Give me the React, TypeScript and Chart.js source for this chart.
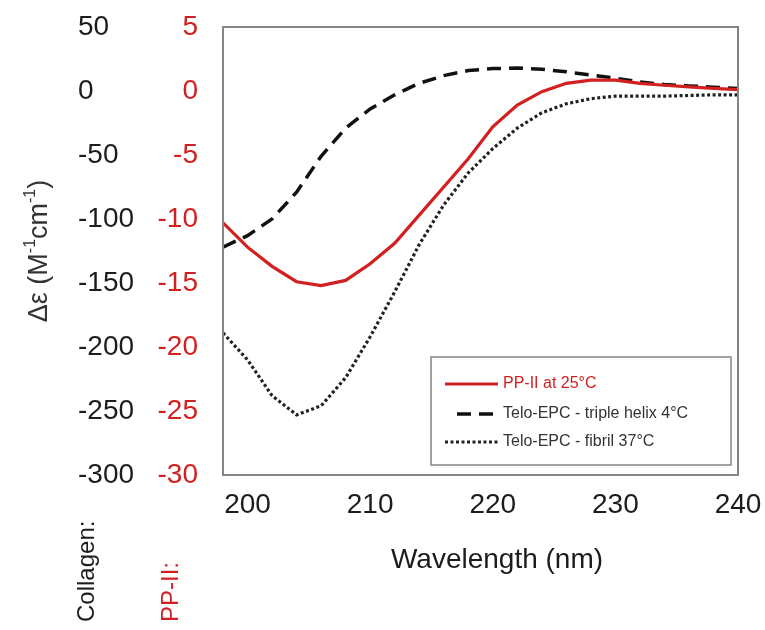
import React, { useEffect, useRef } from "react";
import { Chart, registerables } from "chart.js";

Chart.register(...registerables);

const wavelengths = [198, 200, 202, 204, 206, 208, 210, 212, 214, 216, 218, 220, 222, 224, 226, 228, 230, 232, 234, 236, 238, 240];
const ppII25 = [-10.3, -12.2, -13.7, -14.9, -15.2, -14.8, -13.5, -11.9, -9.7, -7.5, -5.3, -2.8, -1.1, -0.05, 0.6, 0.85, 0.85, 0.6, 0.45, 0.32, 0.2, 0.1];
const tripleHelix4 = [-122, -113, -100, -79, -51, -29, -14, -3, 6, 12, 16, 17.5, 18, 17, 15, 12.5, 10, 7, 5, 4, 3, 2];
const fibril37 = [-189, -210, -238, -253, -246, -224, -192, -157, -120, -89, -64, -45, -29, -17, -10, -6, -4, -4, -4, -3.5, -3, -3];

const xTicks = [200, 210, 220, 230, 240];
const collagenTicks = [-300, -250, -200, -150, -100, -50, 0, 50];
const ppTicks = [-30, -25, -20, -15, -10, -5, 0, 5];

const seriesLabels = ["PP-II at 25°C", "Telo-EPC - triple helix 4°C", "Telo-EPC - fibril 37°C"];
const xTitle = "Wavelength (nm)";

const FONT = "'Liberation Sans', Arial, sans-serif";
const RED = "#d21f1f";
const BLACK = "#1c1c1c";
const FRAME = "#858585";

const toPoints = (ys: number[]) => wavelengths.map((x, i) => ({ x, y: ys[i] }));

const zeroPad = (s: any) => {
  s.paddingTop = 0;
  s.paddingBottom = 0;
  s.paddingLeft = 0;
  s.paddingRight = 0;
};

const decorPlugin = {
  id: "decor",
  afterDatasetsDraw(chart: any) {
    const ctx = chart.ctx;
    const a = chart.chartArea;
    ctx.save();
    // plot frame
    ctx.strokeStyle = FRAME;
    ctx.lineWidth = 2;
    ctx.setLineDash([]);
    ctx.strokeRect(a.left, a.top, a.right - a.left, a.bottom - a.top);

    // legend box
    const lx = 431, ly = 357, lw = 300, lh = 108;
    ctx.fillStyle = "#ffffff";
    ctx.fillRect(lx, ly, lw, lh);
    ctx.strokeStyle = FRAME;
    ctx.lineWidth = 1.5;
    ctx.strokeRect(lx, ly, lw, lh);
    const rows = [384, 414, 442];
    const starts = [445, 457, 445];
    chart.data.datasets.forEach((ds: any, i: number) => {
      const y = rows[i];
      ctx.save();
      ctx.strokeStyle = ds.borderColor;
      ctx.lineWidth = ds.borderWidth;
      ctx.setLineDash(ds.borderDash || []);
      ctx.lineCap = "butt";
      ctx.beginPath();
      ctx.moveTo(starts[i], y);
      ctx.lineTo(498, y);
      ctx.stroke();
      ctx.restore();
      ctx.fillStyle = i === 0 ? RED : "#333333";
      ctx.font = `16px ${FONT}`;
      ctx.textAlign = "left";
      ctx.textBaseline = "middle";
      ctx.fillText(ds.label, 503, y);
    });

    // x axis title
    ctx.fillStyle = BLACK;
    ctx.font = `28px ${FONT}`;
    ctx.textAlign = "center";
    ctx.textBaseline = "middle";
    ctx.fillText(xTitle, 497, 560);

    // y axis title (rotated)
    ctx.save();
    ctx.translate(40, 251);
    ctx.rotate(-Math.PI / 2);
    ctx.fillStyle = "#333333";
    ctx.textBaseline = "middle";
    ctx.textAlign = "left";
    const big = `27px ${FONT}`;
    const small = `16px ${FONT}`;
    const parts: [string, boolean][] = [["Δε (M", false], ["-1", true], ["cm", false], ["-1", true], [")", false]];
    let total = 0;
    parts.forEach(([t, s]) => { ctx.font = s ? small : big; total += ctx.measureText(t).width; });
    let cx = -total / 2;
    parts.forEach(([t, s]) => {
      ctx.font = s ? small : big;
      ctx.fillText(t, cx, s ? -9 : 0);
      cx += ctx.measureText(t).width;
    });
    ctx.restore();

    // rotated axis names
    ctx.save();
    ctx.font = `24px ${FONT}`;
    ctx.textAlign = "left";
    ctx.textBaseline = "middle";
    ctx.translate(87, 622);
    ctx.rotate(-Math.PI / 2);
    ctx.fillStyle = BLACK;
    ctx.fillText("Collagen:", 0, 0);
    ctx.restore();
    ctx.save();
    ctx.font = `24px ${FONT}`;
    ctx.textAlign = "left";
    ctx.textBaseline = "middle";
    ctx.translate(171, 622);
    ctx.rotate(-Math.PI / 2);
    ctx.fillStyle = RED;
    ctx.fillText("PP-II:", 0, 0);
    ctx.restore();

    ctx.restore();
  },
};

export default function App() {
  const ref = useRef<HTMLCanvasElement | null>(null);
  useEffect(() => {
    if (!ref.current) return;
    const chart = new Chart(ref.current, {
      type: "line",
      data: {
        datasets: [
          {
            label: seriesLabels[0],
            data: toPoints(ppII25),
            yAxisID: "yP",
            borderColor: RED,
            borderWidth: 3.2,
            pointRadius: 0,
            tension: 0,
          },
          {
            label: seriesLabels[1],
            data: toPoints(tripleHelix4),
            yAxisID: "yC",
            borderColor: "#111111",
            borderWidth: 3.5,
            borderDash: [14, 8],
            pointRadius: 0,
            tension: 0,
          },
          {
            label: seriesLabels[2],
            data: toPoints(fibril37),
            yAxisID: "yC",
            borderColor: "#222222",
            borderWidth: 3.2,
            borderDash: [3, 2.5],
            pointRadius: 0,
            tension: 0,
          },
        ],
      },
      options: {
        animation: false,
        responsive: false,
        devicePixelRatio: 1,
        layout: { padding: { left: 78, top: 27, right: 27, bottom: 0 } },
        plugins: { legend: { display: false }, tooltip: { enabled: false } },
        scales: {
          x: {
            type: "linear",
            min: 198,
            max: 240,
            afterBuildTicks: (s: any) => { s.ticks = xTicks.map((v) => ({ value: v })); },
            afterFit: (s: any) => { s.height = 155; zeroPad(s); },
            grid: { display: false, drawTicks: false },
            border: { display: false },
            ticks: { font: { family: FONT, size: 28 }, color: BLACK, padding: 13, maxRotation: 0, autoSkip: false },
          },
          yC: {
            type: "linear",
            position: "left",
            weight: 2,
            min: -300,
            max: 50,
            afterBuildTicks: (s: any) => { s.ticks = collagenTicks.map((v) => ({ value: v })); },
            afterFit: (s: any) => { s.width = 80; zeroPad(s); },
            grid: { display: false, drawTicks: false },
            border: { display: false },
            ticks: { crossAlign: "far", font: { family: FONT, size: 28 }, color: BLACK, padding: 0, autoSkip: false },
          },
          yP: {
            type: "linear",
            position: "left",
            weight: 1,
            min: -30,
            max: 5,
            afterBuildTicks: (s: any) => { s.ticks = ppTicks.map((v) => ({ value: v })); },
            afterFit: (s: any) => { s.width = 65; zeroPad(s); },
            grid: { display: false, drawTicks: false },
            border: { display: false },
            ticks: { crossAlign: "near", font: { family: FONT, size: 28 }, color: RED, padding: 25, autoSkip: false },
          },
        },
      },
      plugins: [decorPlugin],
    } as any);
    return () => chart.destroy();
  }, []);
  return (
    <div style={{ position: "absolute", left: 0, top: 0, width: 765, height: 630, background: "#fff" }}>
      <canvas ref={ref} width={765} height={630} style={{ display: "block", width: 765, height: 630 }} />
    </div>
  );
}
